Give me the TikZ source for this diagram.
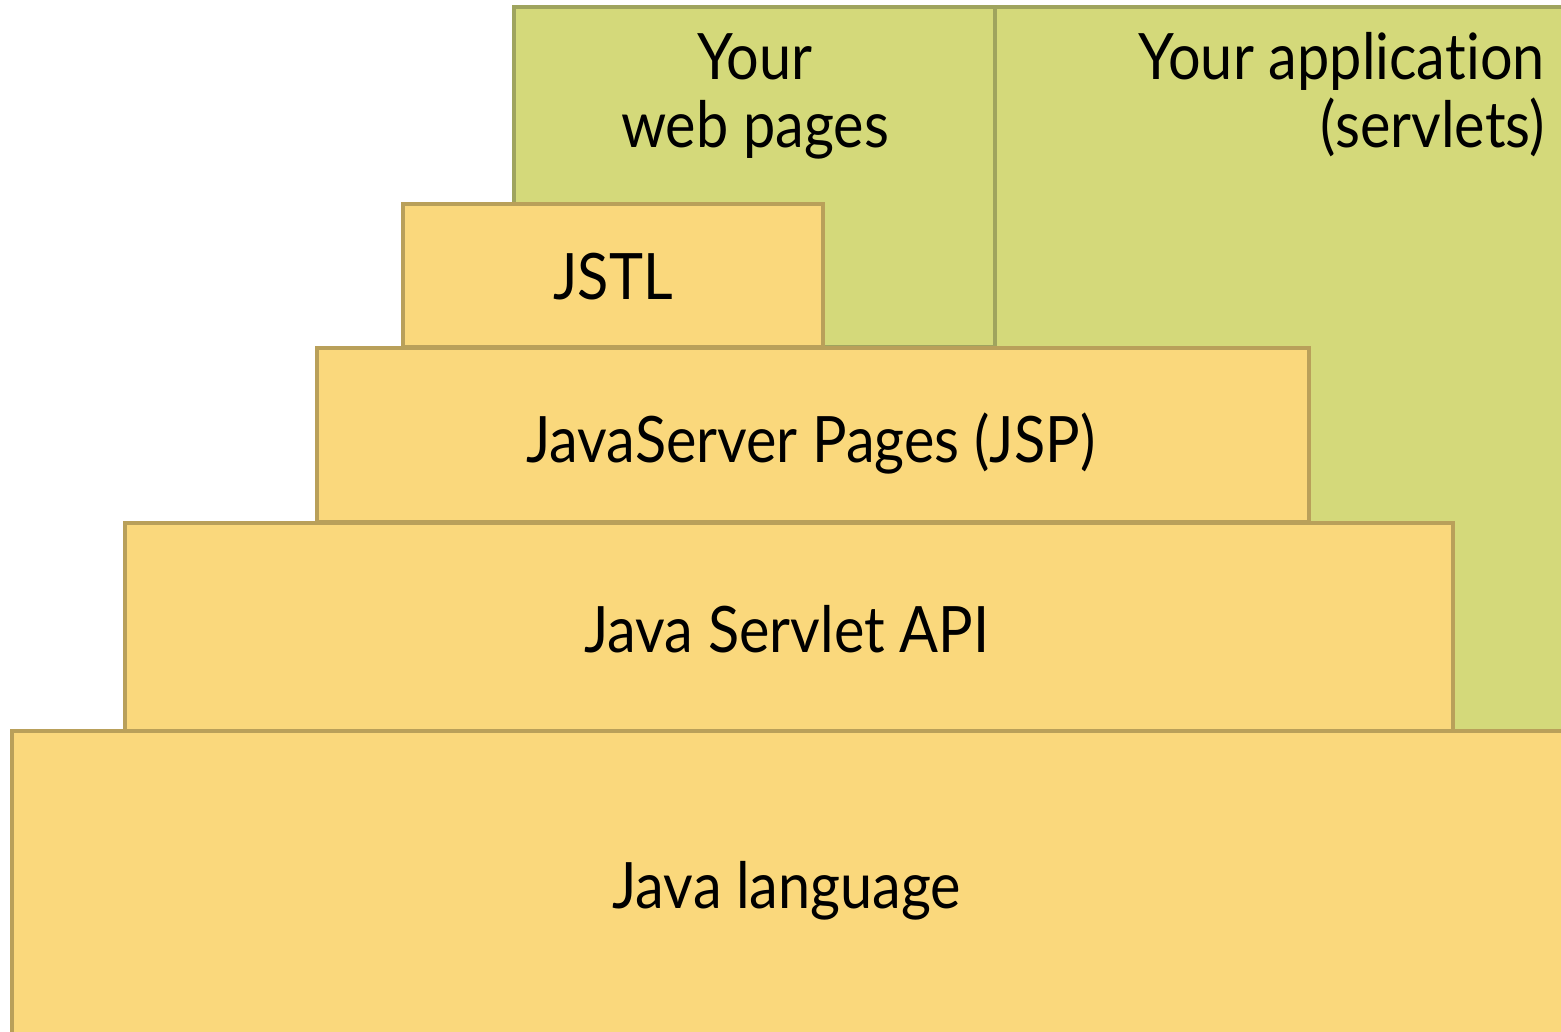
\documentclass[tikz,border=0pt]{standalone}
\usepackage{fontspec}
\setmainfont{Lato}[FakeStretch=0.9, Ligatures=NoCommon]
\definecolor{gfill}{HTML}{D4D97A}
\definecolor{gline}{HTML}{9FA45E}
\definecolor{yfill}{HTML}{FAD87C}
\definecolor{yline}{HTML}{B9A05A}
\tikzset{
  greenbox/.style={fill=gfill, draw=gline, line width=4pt},
  yellowbox/.style={fill=yfill, draw=yline, line width=4pt},
  lbl/.style={anchor=base, inner sep=0pt, font=\fontsize{64}{74}\selectfont},
}
\begin{document}
\begin{tikzpicture}[x=1pt,y=-1pt]
\clip (0,0) rectangle (1561,1032);
\fill[white] (0,0) rectangle (1561,1032);
% green
\draw[greenbox] (995,7) rectangle (1620,731);
\draw[greenbox] (514,7) rectangle (995,347);
% yellow
\draw[yellowbox] (403,204) rectangle (823,347);
\draw[yellowbox] (317,348) rectangle (1309,522);
\draw[yellowbox] (125,523) rectangle (1453,731);
\draw[yellowbox] (12,731) rectangle (1620,1090);
% labels
\node[lbl] (web1) at (755,80) {Your};
\node[lbl] (web2) at (755,148) {web pages};
\node[lbl, anchor=base east] (app1) at (1545,80) {Your applica\kern0pt tion};
\node[lbl, anchor=base east] (app2) at (1545,148) {(servlets)};
\node[lbl] (jstl) at (613,300) {JSTL};
\node[lbl] (jsp) at (811,462) {JavaServer Pages (JSP)};
\node[lbl] (api) at (787,652) {Java Servlet API};
\node[lbl] (lang) at (787,908) {Java language};
\end{tikzpicture}
\end{document}
